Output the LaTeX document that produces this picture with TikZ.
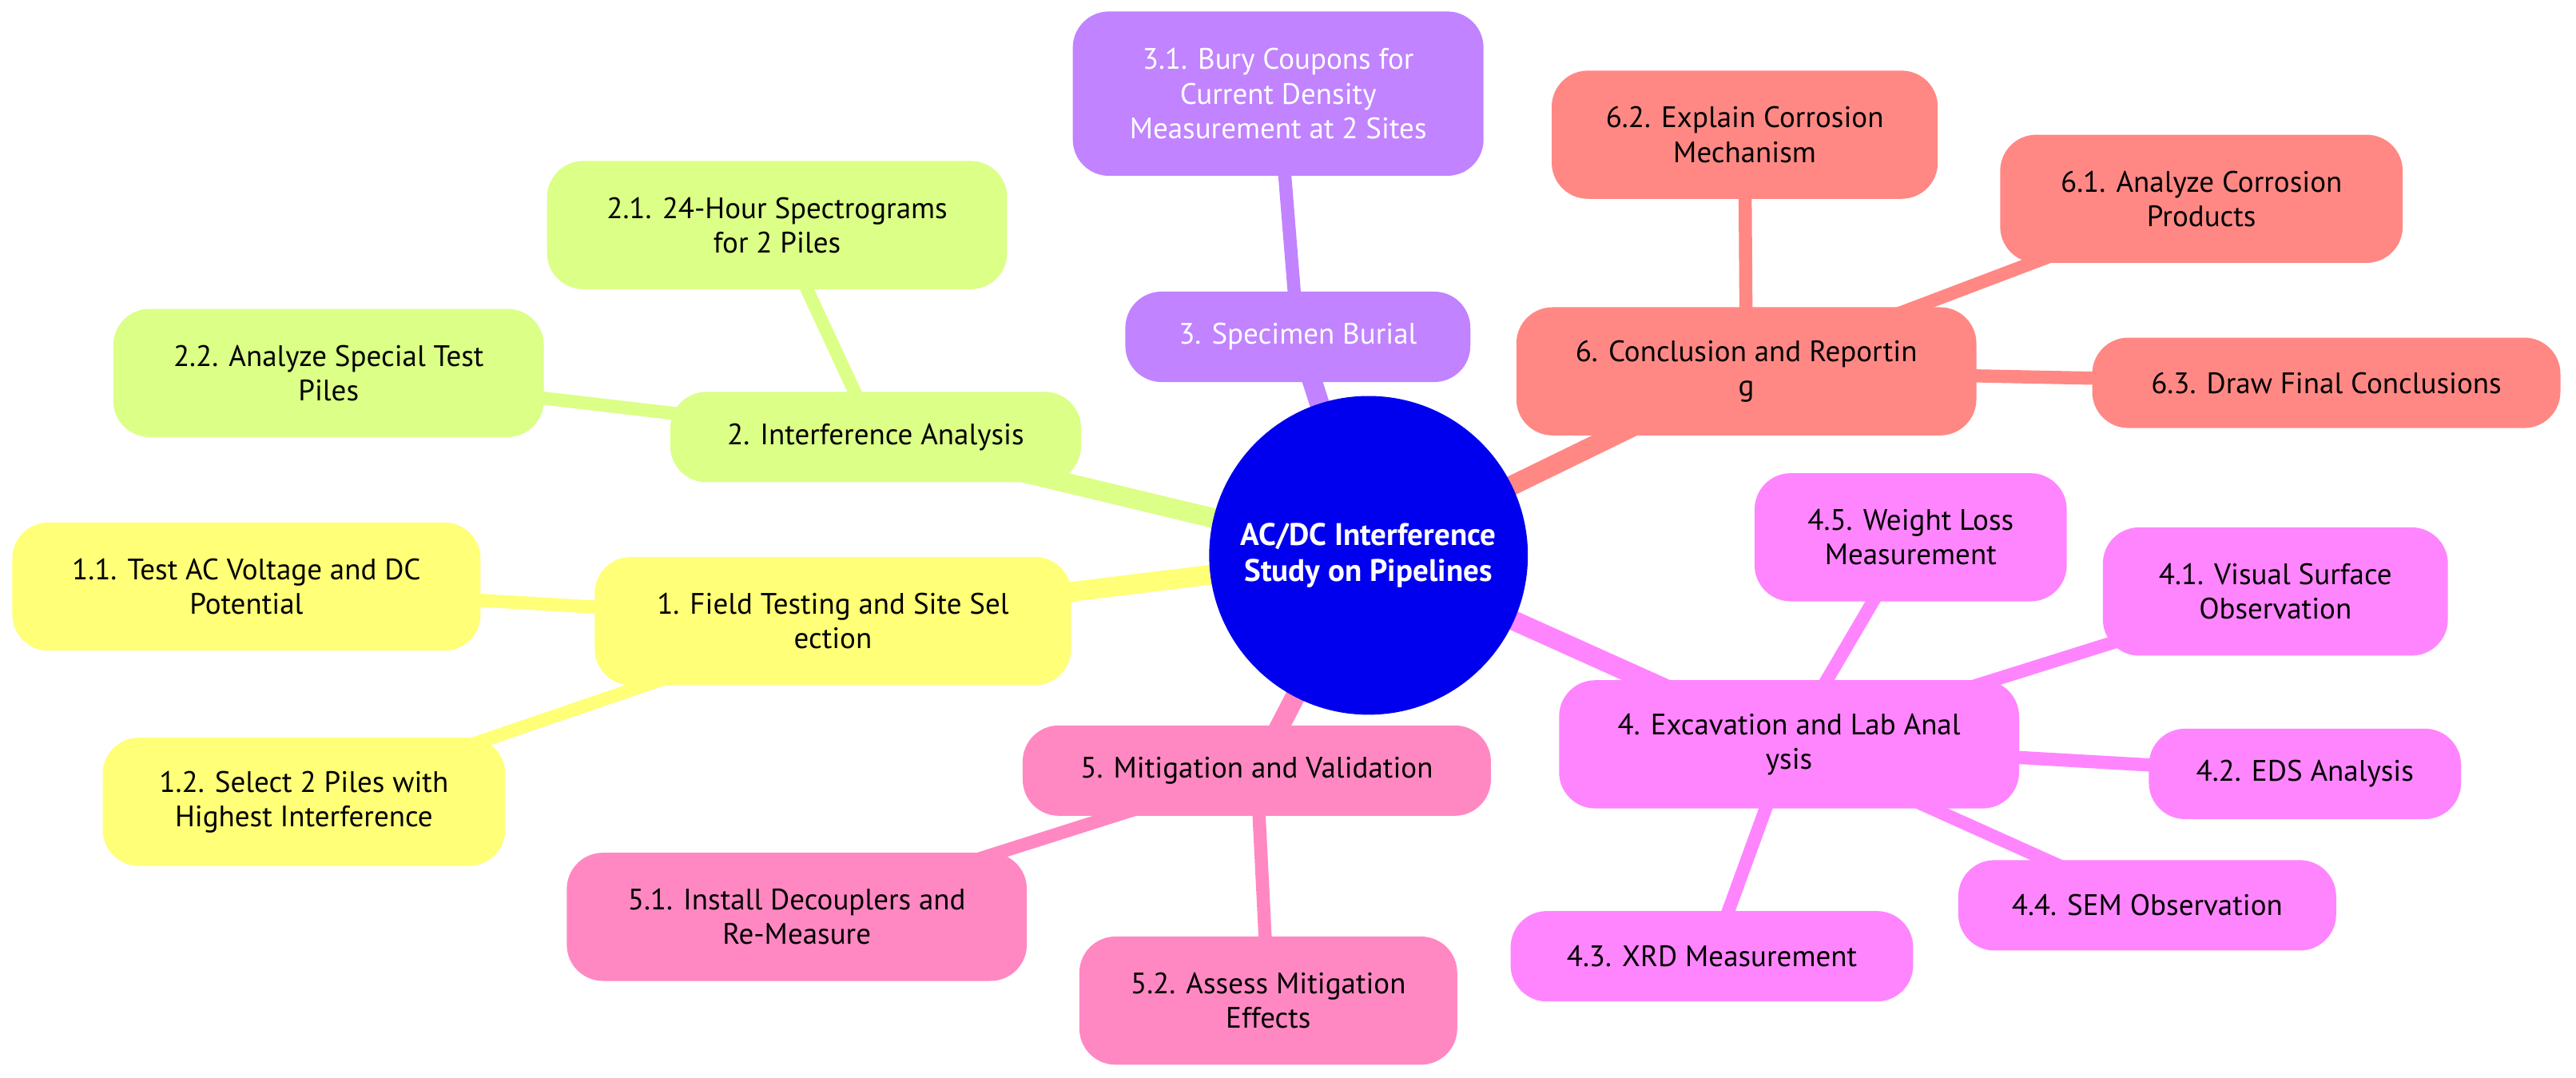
\documentclass[tikz,border=0pt]{standalone}
\usepackage{fontspec}
\setmainfont{PT Sans}
\usetikzlibrary{backgrounds}
\definecolor{rootc}{HTML}{0000EE}
\definecolor{gelb}{HTML}{FFFF78}
\definecolor{gruen}{HTML}{DBFF87}
\definecolor{lila}{HTML}{C183FF}
\definecolor{lachs}{HTML}{FF8884}
\definecolor{magenta}{HTML}{FF85FF}
\definecolor{rosa}{HTML}{FF88C2}
\tikzset{
  box/.style={rounded corners=11pt, align=center, font=\fontsize{9}{10.5}\selectfont, inner sep=0pt},
  ast/.style={line width=6pt},
  zweig/.style={line width=4pt}
}
\begin{document}
\begin{tikzpicture}[x=0.5pt,y=-0.5pt]
            % Rahmen
            \useasboundingbox (0,0) rectangle (1568,656);

            % Wurzel
            \node[circle, fill=rootc, text=white, minimum size=97pt, align=center,
                  font=\fontsize{9.5}{11}\selectfont\bfseries] (root) at (833,338)
                  {AC/DC Interference\\Study on Pipelines};

            % Knoten: Name / x / y / Breite / Hoehe / Farbe / Schrift / Text
            \foreach \n/\x/\y/\w/\h/\c/\s/\t in {
                a/507/378/290/78/gelb/black/{1. Field Testing and Site Sel\\ection},
                a1/150/357/285/78/gelb/black/{1.1. Test AC Voltage and DC\\Potential},
                a2/185/488/245/78/gelb/black/{1.2. Select 2 Piles with\\Highest Interference},
                b/533/266/250/55/gruen/black/{2. Interference Analysis},
                b1/473/137/280/78/gruen/black/{2.1. 24-Hour Spectrograms\\for 2 Piles},
                b2/200/227/262/78/gruen/black/{2.2. Analyze Special Test\\Piles},
                c/790/205/210/55/lila/white/{3. Specimen Burial},
                c1/778/57/250/100/lila/white/{3.1. Bury Coupons for\\Current Density\\Measurement at 2 Sites},
                f/1063/226/280/78/lachs/black/{6. Conclusion and Reportin\\g},
                f2/1062/82/235/78/lachs/black/{6.2. Explain Corrosion\\Mechanism},
                f1/1340/121/245/78/lachs/black/{6.1. Analyze Corrosion\\Products},
                f3/1416/233/285/55/lachs/black/{6.3. Draw Final Conclusions},
                d/1089/453/280/78/magenta/black/{4. Excavation and Lab Anal\\ysis},
                d5/1163/327/190/78/magenta/black/{4.5. Weight Loss\\Measurement},
                d1/1385/360/210/78/magenta/black/{4.1. Visual Surface\\Observation},
                d2/1403/471/190/55/magenta/black/{4.2. EDS Analysis},
                d4/1307/551/230/55/magenta/black/{4.4. SEM Observation},
                d3/1042/582/245/55/magenta/black/{4.3. XRD Measurement},
                e/765/469/285/55/rosa/black/{5. Mitigation and Validation},
                e1/485/558/280/78/rosa/black/{5.1. Install Decouplers and\\Re-Measure},
                e2/772/609/230/78/rosa/black/{5.2. Assess Mitigation\\Effects}} {
                \node[box, fill=\c, text=\s, minimum width=\w*0.5pt, minimum height=\h*0.5pt]
                      (\n) at (\x,\y) {\t};
            }

            % Verbindungen
            \begin{pgfonlayer}{background}
                \fill[white] (0,0) rectangle (1568,656);
                \foreach \p/\c in {a/gelb, b/gruen, c/lila, f/lachs, d/magenta, e/rosa} {
                    \draw[ast, \c] (root.center) -- (\p.center);
                }
                \foreach \p/\k/\c in {a/a1/gelb, a/a2/gelb, b/b1/gruen, b/b2/gruen,
                        c/c1/lila, f/f1/lachs, f/f2/lachs, f/f3/lachs,
                        d/d1/magenta, d/d2/magenta, d/d3/magenta, d/d4/magenta, d/d5/magenta,
                        e/e1/rosa, e/e2/rosa} {
                    \draw[zweig, \c] (\p.center) -- (\k.center);
                }
            \end{pgfonlayer}
\end{tikzpicture}
\end{document}
